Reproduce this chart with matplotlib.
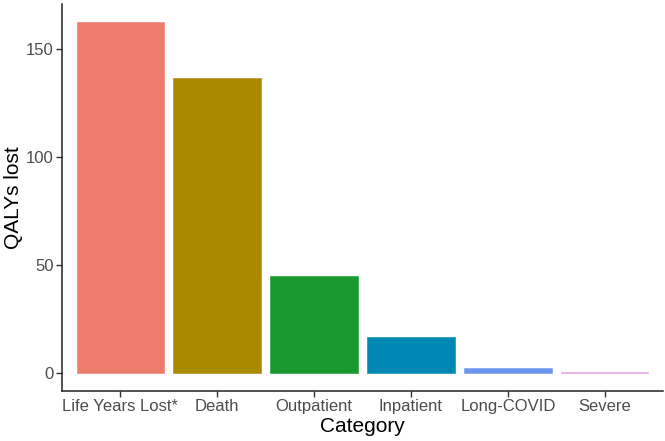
import matplotlib
matplotlib.use("Agg")
import matplotlib.pyplot as plt

categories = ["Life Years Lost*", "Death", "Outpatient", "Inpatient", "Long-COVID", "Severe"]
values = [162.7, 136.8, 45.2, 17.0, 2.4, 0.6]
colors = ["#ED7C6F", "#AA8800", "#19982F", "#0088B4", "#6A96EE", "#E6A0E0"]
yticks = [0, 50, 100, 150]

plt.rcParams['font.family'] = ['Liberation Sans', 'DejaVu Sans']

fig = plt.figure(figsize=(6.65, 4.41), dpi=100)
ax = fig.add_axes([62/665, 50/441, 601/665, 387/441])

x = list(range(1, len(categories) + 1))
ax.bar(x, values, width=0.9, color=colors, edgecolor=colors, linewidth=0.4)

ymax = max(values)
ax.set_xlim(0.4, len(categories) + 0.6)
ax.set_ylim(-0.05 * ymax, ymax * 1.05)
ax.set_xticks(x)
ax.set_xticklabels(categories)
ax.set_yticks(yticks)

for s in ["top", "right"]:
    ax.spines[s].set_visible(False)
for s in ["left", "bottom"]:
    ax.spines[s].set_linewidth(1.1)
    ax.spines[s].set_color("#222222")

ax.tick_params(axis="both", labelsize=12, colors="#333333", labelcolor="#4D4D4D",
               length=4, width=1.0, pad=2)
ax.set_xlabel("Category", fontsize=15, labelpad=2)
ax.set_ylabel("QALYs lost", fontsize=15, labelpad=2)

fig.savefig("out.png", dpi=100)
